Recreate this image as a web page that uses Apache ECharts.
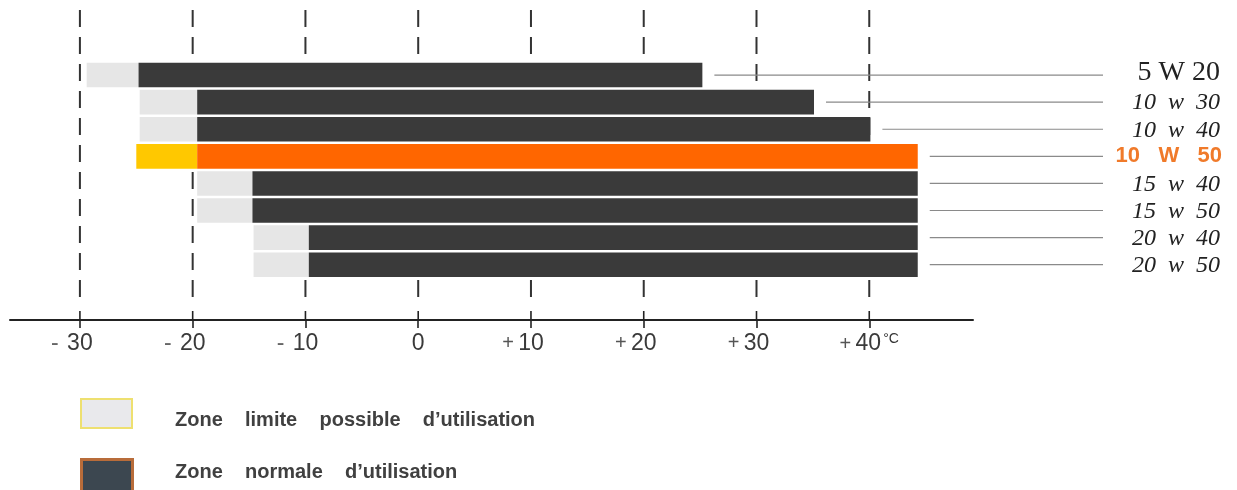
<!DOCTYPE html>
<html><head><meta charset="utf-8">
<script src="https://cdn.jsdelivr.net/npm/echarts@6/dist/echarts.min.js"></script>
<style>html,body{margin:0;padding:0;background:#fff}#c{width:1237px;height:490px}</style>
</head><body><div id="c"></div>
<script>
// Oil grades (rows top to bottom) and temperature ranges (°C)
const grades = ['5 W 20', '10  w  30', '10  w  40', '10   W   50', '15  w  40', '15  w  50', '20  w  40', '20  w  50'];
const limitMin  = [-29.4, -24.7, -24.7, -25.0, -19.6, -19.6, -14.6, -14.6];
const normalMin = [-24.8, -19.6, -19.6, -19.6, -14.7, -14.7, -9.7, -9.7];
const normalMax = [25.2, 35.1, 40.1, 44.3, 44.3, 44.3, 44.3, 44.3];
const highlighted = [false, false, false, true, false, false, false, false];
const tickValues = [-30, -20, -10, 0, 10, 20, 30, 40];
const tickSigns  = ['-', '-', '-', '', '+', '+', '+', '+'];
const tickDigits = ['30', '20', '10', '0', '10', '20', '30', '40'];
const unitLabel = '°C';
const legendLimit = 'Zone    limite    possible    d’utilisation';
const legendNormal = 'Zone    normale    d’utilisation';

const chart = echarts.init(document.getElementById('c'), null, {renderer: 'canvas'});

const barData = grades.map((g, i) => [i, limitMin[i], normalMin[i], normalMax[i], highlighted[i] ? 1 : 0]);

const option = {
  animation: false,
  backgroundColor: '#ffffff',
  grid: {left: 10, right: 264, top: 10, bottom: 170, containLabel: false},
  xAxis: {
    type: 'value', min: -36.2, max: 49.2,
    splitLine: {show: false},
    axisLine: {show: true, onZero: false, lineStyle: {color: '#222', width: 2}},
    axisTick: {show: true, customValues: tickValues, length: 8, lineStyle: {color: '#222', width: 1.6}},
    axisLabel: {
      customValues: tickValues, margin: 12,
      fontFamily: 'Liberation Sans', fontSize: 23, color: '#3a3a3a',
      formatter: function (v) {
        const k = tickValues.indexOf(Math.round(v));
        if (k < 0) return '';
        const s = tickSigns[k], d = tickDigits[k];
        if (!s) return '{d|' + d + '}';
        const sk = s === '-' ? 'sm' : 'sp';
        if (k === tickValues.length - 1) return '{' + sk + '|' + s + '}{d|' + d + '}{u|' + unitLabel + '}';
        return '{' + sk + '|' + s + '}{d|' + d + '}{p|}';
      },
      rich: {
        d: {fontSize: 23, fontFamily: 'Liberation Sans', color: '#3a3a3a'},
        sm: {fontSize: 23, fontFamily: 'Liberation Sans', color: '#666', width: 16, align: 'left'},
        sp: {fontSize: 20, fontFamily: 'Liberation Sans', color: '#555', width: 16, align: 'left'},
        p: {width: 16},
        u: {fontSize: 14, fontFamily: 'Liberation Sans', color: '#333', width: 16, align: 'left', verticalAlign: 'top', padding: [0, 0, 10, 2]}
      }
    }
  },
  yAxis: {type: 'value', min: -2.4, max: 9.04, inverse: true, show: false},
  series: [
    {
      type: 'custom', z: 1, silent: true,
      data: tickValues.map(v => [v]),
      renderItem: function (params, api) {
        const cs = params.coordSys;
        const x = api.coord([api.value(0), 0])[0];
        const bottom = cs.y + cs.height;
        return {type: 'group', children: [
          {type: 'line', shape: {x1: x, y1: cs.y, x2: x, y2: bottom - 14},
           style: {stroke: '#333', lineWidth: 2, lineDash: [17, 10]}},
          {type: 'line', shape: {x1: x, y1: bottom - 9, x2: x, y2: bottom},
           style: {stroke: '#222', lineWidth: 1.6}}
        ]};
      }
    },
    {
      type: 'custom', z: 2, silent: true,
      data: barData,
      renderItem: function (params, api) {
        const i = api.value(0);
        const hi = api.value(4) === 1;
        const p0 = api.coord([api.value(1), i]);
        const p1 = api.coord([api.value(2), i]);
        const p2 = api.coord([api.value(3), i]);
        const h = Math.abs(api.size([0, 1])[1]) - 2.5;
        const W = api.getWidth();
        const leadEnd = W - 134;
        const lbl = grades[i];
        const textStyle = hi
          ? {text: lbl, x: W - 15, y: p2[1], align: 'right', verticalAlign: 'middle',
             fill: '#f07a2a', font: 'bold 22px "Liberation Sans"'}
          : {text: lbl, x: W - 17, y: p2[1] + (i === 0 ? -2 : 1), align: 'right', verticalAlign: 'middle',
             fill: '#222', font: (i === 0 ? '28px' : 'italic 24px') + ' "Liberation Serif"'};
        return {type: 'group', children: [
          {type: 'rect', shape: {x: p0[0], y: p0[1] - h / 2, width: p1[0] - p0[0], height: h},
           style: {fill: hi ? '#ffc800' : '#e6e6e6'}},
          {type: 'rect', shape: {x: p1[0], y: p1[1] - h / 2, width: p2[0] - p1[0], height: h},
           style: {fill: hi ? '#ff6600' : '#3a3a3a'}},
          {type: 'line', shape: {x1: p2[0] + 12, y1: p2[1], x2: leadEnd, y2: p2[1]},
           style: {stroke: '#8a8a8a', lineWidth: 1.2}},
          {type: 'text', style: textStyle}
        ]};
      }
    }
  ],
  graphic: [
    {type: 'rect', left: 80, top: 398, shape: {width: 51, height: 29},
     style: {fill: '#e9e9ec', stroke: '#eee070', lineWidth: 2}},
    {type: 'text', left: 175, top: 410,
     style: {text: legendLimit, font: 'bold 20px "Liberation Sans"', fill: '#404040'}},
    {type: 'rect', left: 80, top: 458, shape: {width: 51, height: 34},
     style: {fill: '#3c4750', stroke: '#b86c3a', lineWidth: 3}},
    {type: 'text', left: 175, top: 462,
     style: {text: legendNormal, font: 'bold 20px "Liberation Sans"', fill: '#404040'}}
  ]
};
chart.setOption(option);
</script>
</body></html>
